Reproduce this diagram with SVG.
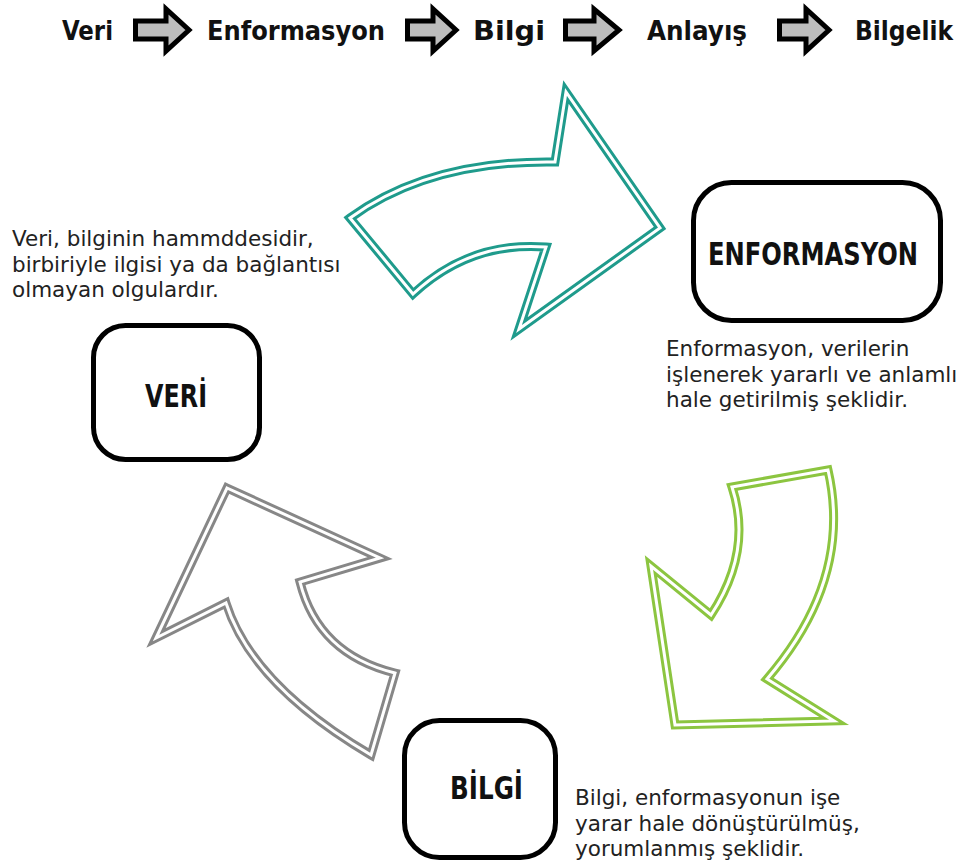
<svg xmlns="http://www.w3.org/2000/svg" xmlns:xlink="http://www.w3.org/1999/xlink" width="961" height="862" viewBox="0 0 961 862">
<style>
.hdr{font-family:"DejaVu Sans Condensed","DejaVu Sans",sans-serif;font-weight:bold;font-size:27px;fill:#111}
.hdr-arrow{fill:#bdbdbd;stroke:#000;stroke-width:5;stroke-linejoin:miter;stroke-miterlimit:10}
.box{fill:#fff;stroke:#000;stroke-width:5}
.lbl{font-family:"DejaVu Sans Condensed","DejaVu Sans",sans-serif;font-weight:bold;font-size:32px;fill:#111;text-anchor:middle}
.desc{font-family:"DejaVu Sans","Liberation Sans",sans-serif;font-size:21.5px;fill:#222}
.outer{fill:#fff;stroke-width:9;stroke-linejoin:miter;stroke-miterlimit:10}
.inner{fill:none;stroke:#fff;stroke-width:3;stroke-linejoin:miter;stroke-miterlimit:10}
.teal{stroke:#1f9b8c}
.green{stroke:#8cc540}
.gray{stroke:#878787}
</style>
<defs>
<path id="p-teal" d="M 350,218 Q 430,160 555,162 L 566,92 L 660,228 L 519,329 L 546,247 Q 470,241 413,294 Z"/>
<path id="p-green" d="M 732,487 L 828,470 Q 853,579 767,679 L 834,721 L 675,725 L 651,566 L 711,615 Q 753,551 732,487 Z"/>
<path id="p-gray" d="M 227,488 L 380,558 L 300,582 Q 318,654 395,673 L 371,755 Q 252,685 226,603 L 156,638 Z"/>
</defs>
<rect width="961" height="862" fill="#fff"/>
<g id="header">
<text class="hdr" x="62" y="40" textLength="51" lengthAdjust="spacingAndGlyphs">Veri</text>
<polygon class="hdr-arrow" points="135.5,21 166,21 166,9 189,30 166,51 166,39 135.5,39"/>
<text class="hdr" x="207" y="40" textLength="178" lengthAdjust="spacingAndGlyphs">Enformasyon</text>
<polygon class="hdr-arrow" points="407.5,21 433,21 433,9 456,30 433,51 433,39 407.5,39"/>
<text class="hdr" x="473" y="40" textLength="72" lengthAdjust="spacingAndGlyphs">Bilgi</text>
<polygon class="hdr-arrow" points="565.5,21 594,21 594,9 619,30 594,51 594,39 565.5,39"/>
<text class="hdr" x="647" y="40" textLength="100" lengthAdjust="spacingAndGlyphs">Anlayış</text>
<polygon class="hdr-arrow" points="779.5,21 806,21 806,9 829,30 806,51 806,39 779.5,39"/>
<text class="hdr" x="855" y="40" textLength="98" lengthAdjust="spacingAndGlyphs">Bilgelik</text>
</g>
<g id="connectors">
<use xlink:href="#p-teal" class="outer teal"/>
<use xlink:href="#p-teal" class="inner"/>
<use xlink:href="#p-green" class="outer green"/>
<use xlink:href="#p-green" class="inner"/>
<use xlink:href="#p-gray" class="outer gray"/>
<use xlink:href="#p-gray" class="inner"/>
</g>
<g id="node-veri">
<rect class="box" x="93.5" y="325.5" width="166" height="134" rx="32"/>
<text class="lbl" x="176" y="407" textLength="62" lengthAdjust="spacingAndGlyphs">VERİ</text>
<text class="desc" x="12" y="246">Veri, bilginin hammddesidir,</text>
<text class="desc" x="12" y="271.5">birbiriyle ilgisi ya da bağlantısı</text>
<text class="desc" x="12" y="297">olmayan olgulardır.</text>
</g>
<g id="node-enformasyon">
<rect class="box" x="693.5" y="182.5" width="247" height="138" rx="38"/>
<text class="lbl" x="813" y="265" textLength="210" lengthAdjust="spacingAndGlyphs">ENFORMASYON</text>
<text class="desc" x="666" y="356">Enformasyon, verilerin</text>
<text class="desc" x="666" y="381.5">işlenerek yararlı ve anlamlı</text>
<text class="desc" x="666" y="407">hale getirilmiş şeklidir.</text>
</g>
<g id="node-bilgi">
<rect class="box" x="404.5" y="720.5" width="151" height="137" rx="35"/>
<text class="lbl" x="486.5" y="799" textLength="73" lengthAdjust="spacingAndGlyphs">BİLGİ</text>
<text class="desc" x="575" y="805">Bilgi, enformasyonun işe</text>
<text class="desc" x="575" y="830.5">yarar hale dönüştürülmüş,</text>
<text class="desc" x="575" y="856">yorumlanmış şeklidir.</text>
</g>
</svg>
